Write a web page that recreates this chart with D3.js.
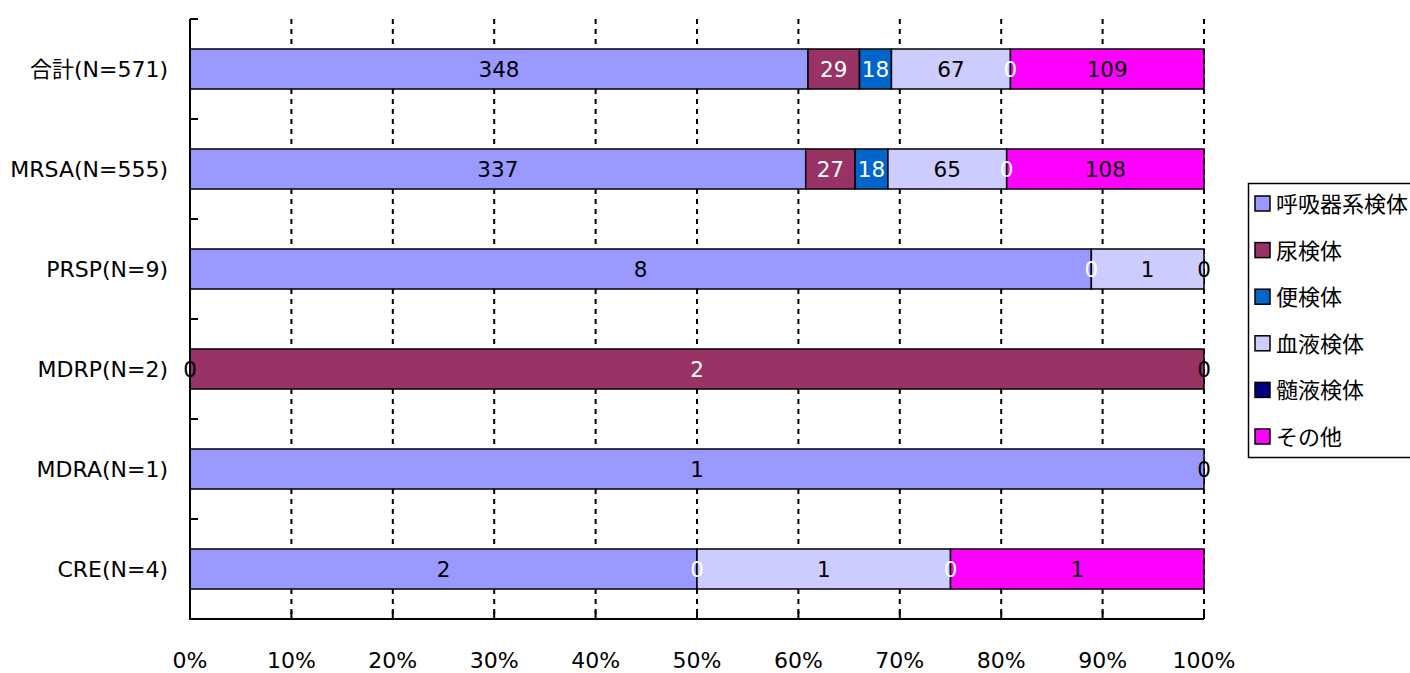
<!DOCTYPE html>
<html>
<head>
<meta charset="utf-8">
<script src="https://cdn.jsdelivr.net/npm/d3@7"></script>
<style>
  body { margin: 0; background: #fff; }
  text { font-family: "DejaVu Sans", Verdana, "Noto Sans CJK JP", sans-serif; }
</style>
</head>
<body>
<div id="graph"></div>
<script>
// categories (top to bottom)
const categories = ["合計(N=571)", "MRSA(N=555)", "PRSP(N=9)", "MDRP(N=2)", "MDRA(N=1)", "CRE(N=4)"];

// series, one value per category (null = empty cell, no label)
const seriesNames = ["呼吸器系検体", "尿検体", "便検体", "血液検体", "髄液検体", "その他"];
const respiratory = [348, 337, 8, 0, 1, 2];
const urine = [29, 27, null, 2, null, null];
const stool = [18, 18, 0, null, null, 0];
const blood = [67, 65, 1, null, null, 1];
const csf = [0, 0, null, null, null, 0];
const other = [109, 108, 0, 0, 0, 1];

const seriesValues = [respiratory, urine, stool, blood, csf, other];
const colors = ["#9999FF", "#993366", "#0066CC", "#CCCCFF", "#000080", "#FF00FF"];
const labelColors = ["#000", "#fff", "#fff", "#000", "#fff", "#000"];
const tickLabels = d3.range(0, 11).map(i => i * 10 + "%");

const W = 1410, H = 673;
const plotLeft = 190, plotRight = 1204, plotTop = 19, plotBottom = 619;

const svg = d3.select("#graph")
  .append("svg")
  .attr("width", W)
  .attr("height", H)
  .style("display", "block");

const x = d3.scaleLinear().domain([0, 1]).range([plotLeft, plotRight]);
const y = d3.scaleBand().domain(categories).range([plotTop, plotBottom])
  .paddingInner(0.6).paddingOuter(0.3);
const step = y.step();

// vertical dotted gridlines
svg.append("g")
  .selectAll("line")
  .data(d3.range(1, 11).map(i => i / 10))
  .enter()
  .append("line")
  .attr("x1", d => x(d)).attr("x2", d => x(d))
  .attr("y1", plotTop).attr("y2", plotBottom)
  .attr("stroke", "#000")
  .attr("stroke-width", 2)
  .attr("stroke-dasharray", "5,5");

// stacked segments (share of row total)
const rows = categories.map((c, i) => {
  const vals = seriesValues.map(s => s[i]);
  const total = d3.sum(vals.map(v => v || 0));
  let acc = 0;
  return vals.map((v, k) => {
    const x0 = acc / total;
    acc += v || 0;
    return { cat: c, k, v, x0, x1: acc / total };
  });
});
const segs = rows.flat();

svg.append("g")
  .selectAll("rect")
  .data(segs.filter(d => d.v))
  .enter()
  .append("rect")
  .attr("x", d => x(d.x0))
  .attr("y", d => y(d.cat))
  .attr("width", d => x(d.x1) - x(d.x0))
  .attr("height", y.bandwidth())
  .attr("fill", d => colors[d.k])
  .attr("stroke", "#000")
  .attr("stroke-width", 1.5);

// data labels (zeros sit on the segment boundary)
svg.append("g")
  .selectAll("text")
  .data(segs.filter(d => d.v !== null))
  .enter()
  .append("text")
  .attr("x", d => x((d.x0 + d.x1) / 2))
  .attr("y", d => y(d.cat) + y.bandwidth() / 2)
  .attr("dy", "0.36em")
  .attr("text-anchor", "middle")
  .attr("font-size", 21.5)
  .attr("fill", d => labelColors[d.k])
  .text(d => d.v);

// axes
const axis = svg.append("g").attr("stroke", "#000").attr("stroke-width", 2);
axis.append("line").attr("x1", plotLeft).attr("x2", plotLeft).attr("y1", plotTop).attr("y2", plotBottom + 1);
axis.append("line").attr("x1", plotLeft).attr("x2", plotRight).attr("y1", plotBottom).attr("y2", plotBottom);
axis.selectAll(".yt")
  .data(d3.range(0, categories.length))
  .enter()
  .append("line")
  .attr("x1", plotLeft).attr("x2", plotLeft + 8)
  .attr("y1", i => plotTop + i * step).attr("y2", i => plotTop + i * step);
axis.selectAll(".xt")
  .data(d3.range(1, 11).map(i => i / 10))
  .enter()
  .append("line")
  .attr("x1", d => x(d)).attr("x2", d => x(d))
  .attr("y1", plotBottom).attr("y2", plotBottom - 8);

// category labels
svg.append("g")
  .selectAll("text")
  .data(categories)
  .enter()
  .append("text")
  .attr("x", plotLeft - 22)
  .attr("y", d => y(d) + y.bandwidth() / 2)
  .attr("dy", "0.36em")
  .attr("text-anchor", "end")
  .attr("font-size", 22)
  .text(d => d);

// x tick labels
svg.append("g")
  .selectAll("text")
  .data(tickLabels)
  .enter()
  .append("text")
  .attr("x", (d, i) => x(i / 10))
  .attr("y", 668)
  .attr("text-anchor", "middle")
  .attr("font-size", 22)
  .text(d => d);

// legend
const legend = svg.append("g");
legend.append("rect")
  .attr("x", 1248.5).attr("y", 183.5)
  .attr("width", 200).attr("height", 274)
  .attr("fill", "#fff").attr("stroke", "#000").attr("stroke-width", 1.5);
const item = legend.selectAll("g.item")
  .data(seriesNames)
  .enter()
  .append("g")
  .attr("transform", (d, i) => "translate(1255," + (204 + i * 46.6) + ")");
item.append("rect")
  .attr("x", 0).attr("y", -8)
  .attr("width", 15).attr("height", 15)
  .attr("fill", (d, i) => colors[i])
  .attr("stroke", "#000").attr("stroke-width", 1.5);
item.append("text")
  .attr("x", 21).attr("y", 0)
  .attr("dy", "0.36em")
  .attr("font-size", 22)
  .text(d => d);
</script>
</body>
</html>
